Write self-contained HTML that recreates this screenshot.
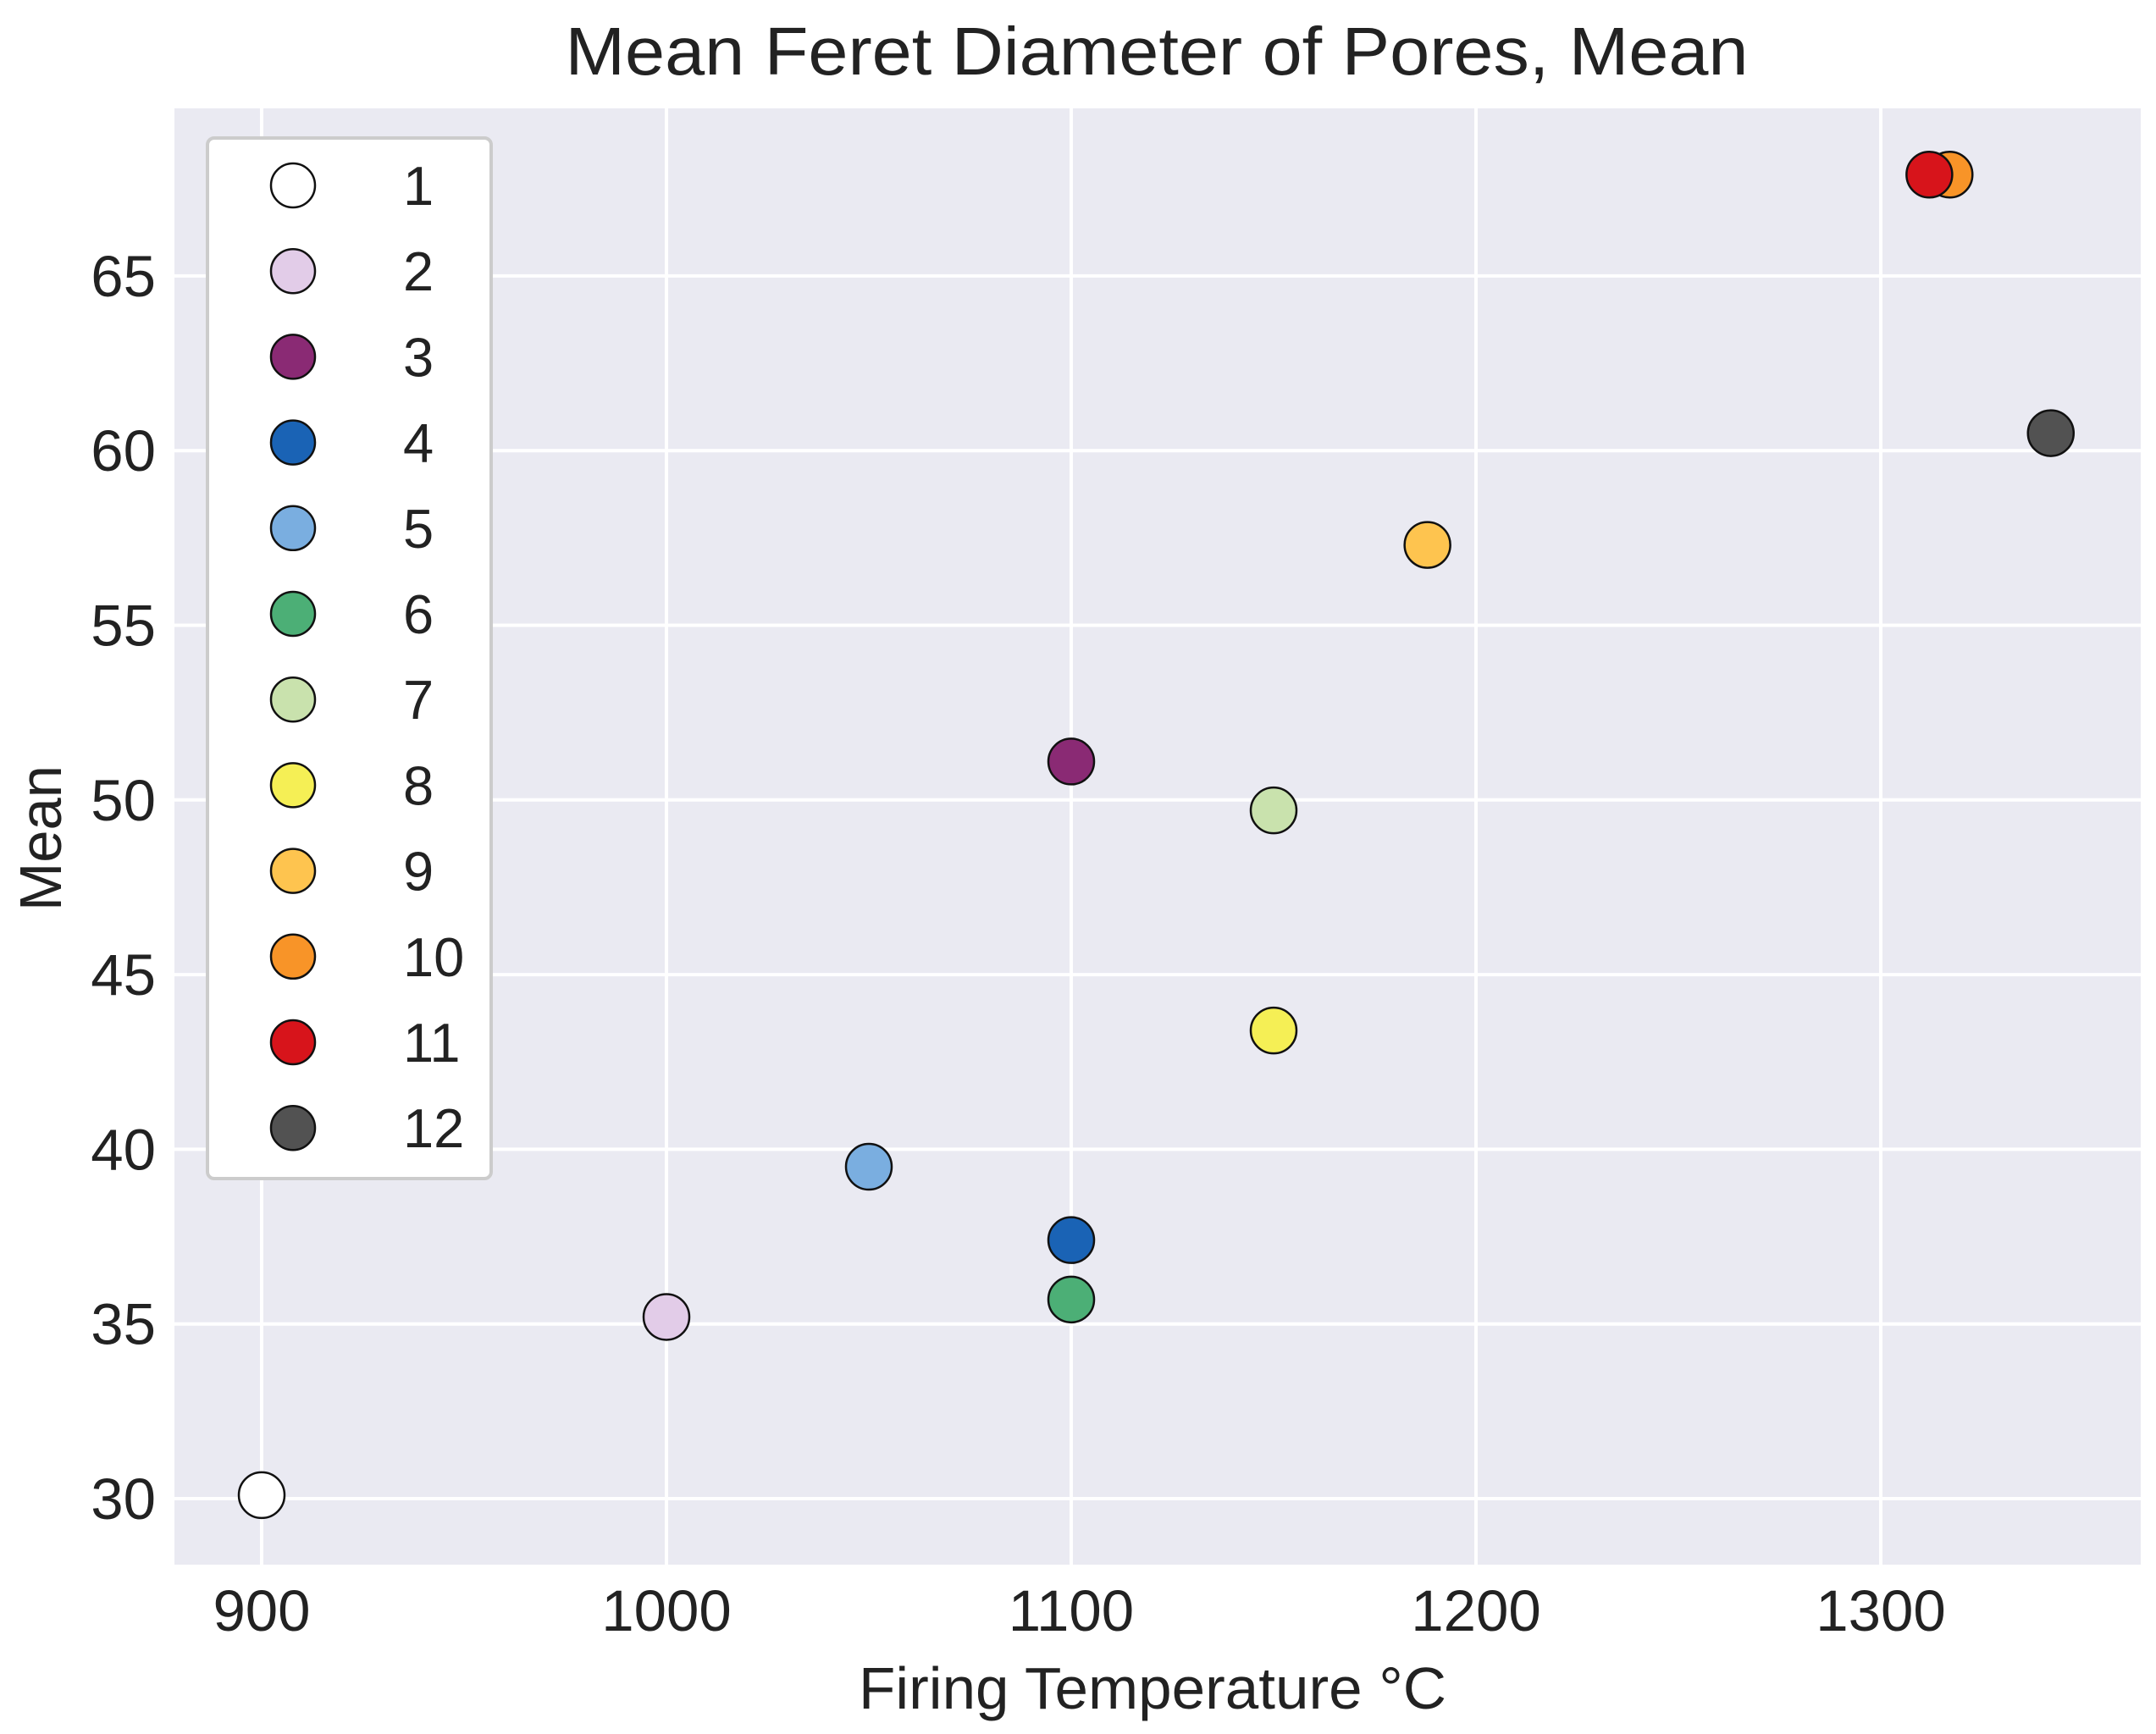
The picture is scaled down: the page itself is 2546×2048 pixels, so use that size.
<!DOCTYPE html>
<html><head><meta charset="utf-8"><style>
html,body{margin:0;padding:0;background:#fff;}
svg{display:block;font-family:"Liberation Sans",Arial,sans-serif;}
</style></head><body>
<svg id="chart" width="2546" height="2048" viewBox="0 0 2546 2048" xmlns="http://www.w3.org/2000/svg">
<rect x="206" y="128" width="2322" height="1720" fill="#eaeaf2"/>
<g id="grid"></g>
<g id="ticks"></g>
<g id="points"></g>
<text x="1366" y="88" font-size="80" text-anchor="middle" fill="#222" textLength="1397" lengthAdjust="spacingAndGlyphs">Mean Feret Diameter of Pores, Mean</text>
<text x="1361" y="2018" font-size="70" text-anchor="middle" fill="#222" textLength="694" lengthAdjust="spacingAndGlyphs">Firing Temperature °C</text>
<text transform="translate(72,990) rotate(-90)" font-size="70" text-anchor="middle" fill="#222" textLength="172" lengthAdjust="spacingAndGlyphs">Mean</text>
<g id="legend">
<rect x="245" y="163" width="335" height="1229" rx="8" fill="#fff" stroke="#cccccc" stroke-width="4"/>
</g>
</svg>
<script>
const labels = ["1","2","3","4","5","6","7","8","9","10","11","12"];
const temps = [900,1000,1100,1100,1050,1100,1150,1150,1188,1317,1312,1342];
const means = [30.1,35.2,51.1,37.4,39.5,35.7,49.7,43.4,57.3,67.9,67.9,60.5];
const colors = ["#ffffff","#e2cce8","#8a2a74","#1a63b5","#7aaee0","#4caf76","#c9e2ad","#f5ef55","#fec44f","#f89428","#d7141b","#525252"];
const xTicks = [900,1000,1100,1200,1300];
const yTicks = [30,35,40,45,50,55,60,65];

const NS = "http://www.w3.org/2000/svg";
const PL = 206, PR = 2528, PT = 128, PB = 1848;
function xs(v){ return 309 + (v - 900) * 4.78; }
function ys(v){ return 1770 - (v - 30) * 41.26; }
function mk(tag, attrs, parent){ const e = document.createElementNS(NS, tag); for (const k in attrs) e.setAttribute(k, attrs[k]); parent.appendChild(e); return e; }

const grid = document.getElementById('grid');
const ticks = document.getElementById('ticks');
xTicks.forEach(t => {
  const l = mk('line', {x1: xs(t), x2: xs(t), y1: PT, y2: PB, stroke: '#fff', 'stroke-width': 4}, grid);
  
  
  const tx = mk('text', {x: xs(t), y: 1926, 'font-size': 69, 'text-anchor': 'middle', fill: '#222'}, ticks);
  tx.textContent = t;
  
  
});
yTicks.forEach(t => {
  const l = mk('line', {x1: PL, x2: PR, y1: ys(t), y2: ys(t), stroke: '#fff', 'stroke-width': 4}, grid);
  
  
  const tx = mk('text', {x: 184, y: ys(t) + 24, 'font-size': 69, 'text-anchor': 'end', fill: '#222'}, ticks);
  tx.textContent = t;
  
  
});

const pts = document.getElementById('points');
labels.forEach((lab, i) => {
  const c = mk('circle', {cx: xs(temps[i]), cy: ys(means[i]), r: 27, fill: colors[i], stroke: '#111', 'stroke-width': 2.5}, pts);
  
  
});

const leg = document.getElementById('legend');
labels.forEach((lab, i) => {
  const y = 219 + i * 101.2;
  const c = mk('circle', {cx: 346, cy: y, r: 26, fill: colors[i], stroke: '#111', 'stroke-width': 2.5}, leg);
  
  
  const t = mk('text', {x: 476, y: y + 23, 'font-size': 65, fill: '#222'}, leg);
  t.textContent = lab;
  
  
});
</script>
</body></html>
